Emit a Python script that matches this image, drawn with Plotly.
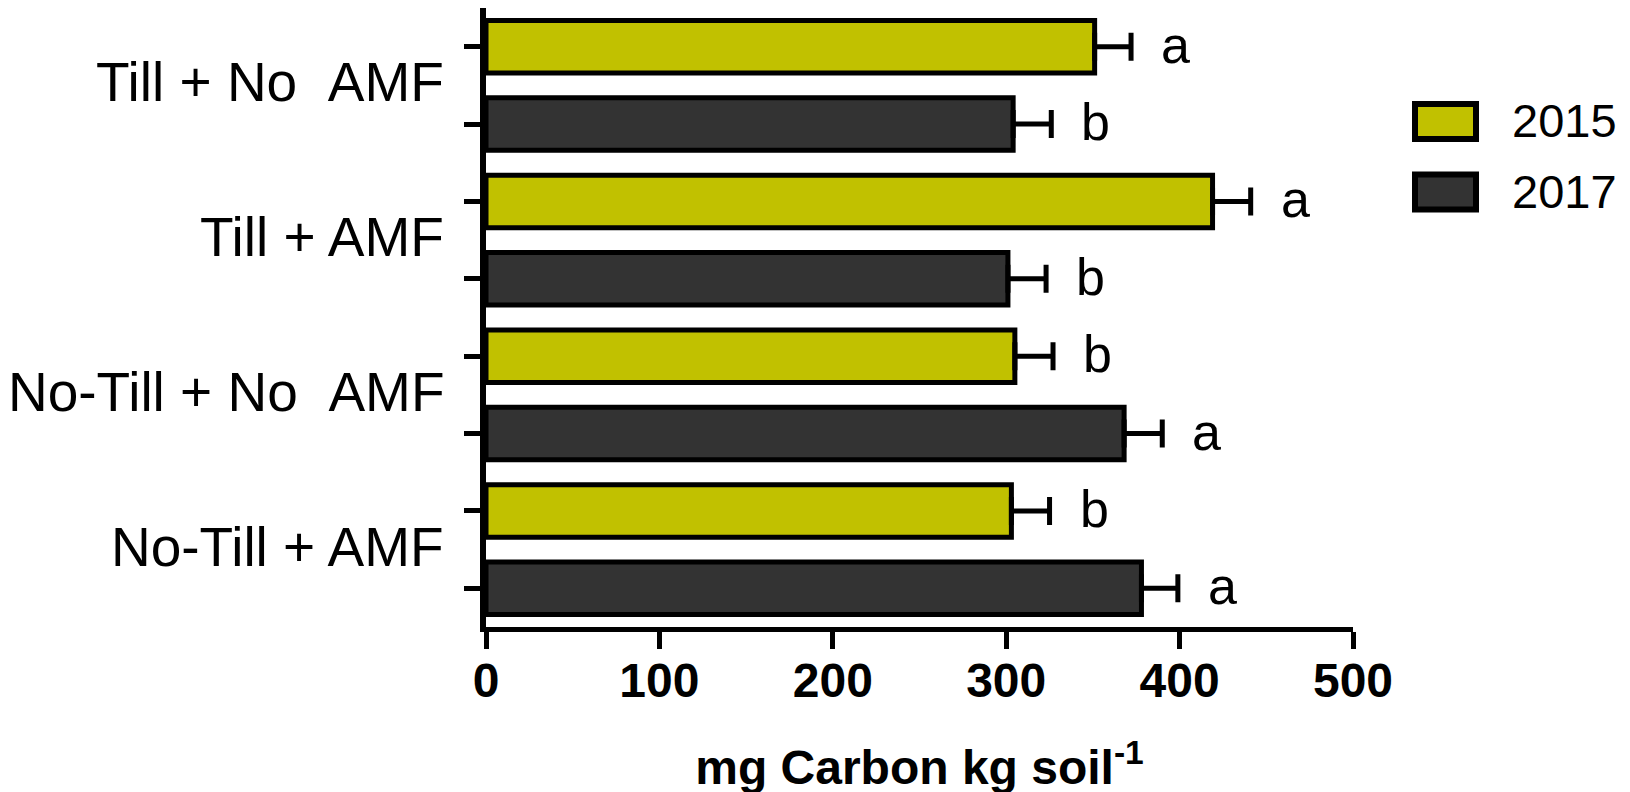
import plotly.graph_objects as go

# ---- data ----
groups = ["Till + No\u00a0\u00a0AMF", "Till + AMF", "No-Till + No\u00a0\u00a0AMF", "No-Till + AMF"]
years = ["2015", "2017"]
values_2015 = [351, 419, 305, 303]
values_2017 = [304, 301, 368, 378]
err_2015 = [21, 22, 22, 22]
err_2017 = [22, 22, 22, 21]
letters_2015 = ["a", "a", "b", "b"]
letters_2017 = ["b", "b", "a", "a"]
x_ticks = [0, 100, 200, 300, 400, 500]

colors = {"2015": "#C1C100", "2017": "#333333"}
FONT = "Liberation Sans, Arial, sans-serif"

W, H = 1630, 792
OFF = 8  # page body margin of the browser
ML, MR, MT, MB = 486 - OFF, 277 + OFF, 8 - OFF, 165 + OFF

pos_2015 = [2 * i for i in range(len(groups))]
pos_2017 = [2 * i + 1 for i in range(len(groups))]

fig = go.Figure()
for name, vals, errs, pos in [("2015", values_2015, err_2015, pos_2015),
                              ("2017", values_2017, err_2017, pos_2017)]:
    fig.add_trace(go.Bar(
        x=vals, y=pos, orientation="h", name=name, width=0.68,
        marker=dict(color=colors[name], line=dict(color="black", width=5)),
        error_x=dict(type="data", array=errs, arrayminus=[0] * len(errs), symmetric=False,
                     color="black", thickness=5, width=14),
        showlegend=False,
    ))

annotations = []
# significance letters
for vals, errs, pos, lets in [(values_2015, err_2015, pos_2015, letters_2015),
                              (values_2017, err_2017, pos_2017, letters_2017)]:
    for v, e, p, l in zip(vals, errs, pos, lets):
        annotations.append(dict(x=v + e, y=p, xref="x", yref="y", text=l, showarrow=False,
                                xanchor="left", yanchor="middle", xshift=28, yshift=2,
                                font=dict(family=FONT, size=52, color="black")))
# group labels
for i, g in enumerate(groups):
    annotations.append(dict(x=0, y=2 * i + 0.5, xref="paper", yref="y", text=g, showarrow=False,
                            xanchor="right", yanchor="middle", xshift=-40, yshift=3,
                            font=dict(family=FONT, size=55, color="black")))

# legend (drawn manually for large swatches), positions in reference-page pixels
pw = W - ML - MR
ph = H - MT - MB
def px(x):
    return (x - OFF - ML) / pw
def py(y):
    return (H - MB - (y - OFF)) / ph

shapes = []
leg_rows = [("2015", 121.5), ("2017", 192.0)]
for name, cy in leg_rows:
    shapes.append(dict(type="rect", xref="paper", yref="paper",
                       x0=px(1415), x1=px(1476), y0=py(cy - 17.5), y1=py(cy + 17.5),
                       fillcolor=colors[name], line=dict(color="black", width=6)))
    annotations.append(dict(x=px(1510), y=py(cy), xref="paper", yref="paper", text=name,
                            showarrow=False, xanchor="left", yanchor="middle", yshift=1,
                            font=dict(family=FONT, size=47, color="black")))

fig.update_layout(
    width=W, height=H,
    margin=dict(l=ML, r=MR, t=MT, b=MB, autoexpand=False),
    paper_bgcolor="white", plot_bgcolor="white",
    barmode="overlay",
    annotations=annotations, shapes=shapes,
    xaxis=dict(range=[0, 500], tickvals=x_ticks, ticktext=[str(t) for t in x_ticks],
               showgrid=False, zeroline=False, showline=True, linecolor="black", linewidth=5,
               ticks="outside", ticklen=17, tickwidth=5, tickcolor="black",
               ticklabelstandoff=-10,
               tickfont=dict(family=FONT, size=48, color="black", weight="bold"),
               title=dict(text="mg Carbon kg soil<sup>-1</sup>", standoff=46,
                          font=dict(family=FONT, size=48, color="black", weight="bold"))),
    yaxis=dict(range=[7.5, -0.5], tickvals=pos_2015 + pos_2017, showticklabels=False,
               showgrid=False, zeroline=False, showline=True, linecolor="black", linewidth=6,
               ticks="outside", ticklen=16, tickwidth=5, tickcolor="black"),
)

fig.write_html("out.html")
